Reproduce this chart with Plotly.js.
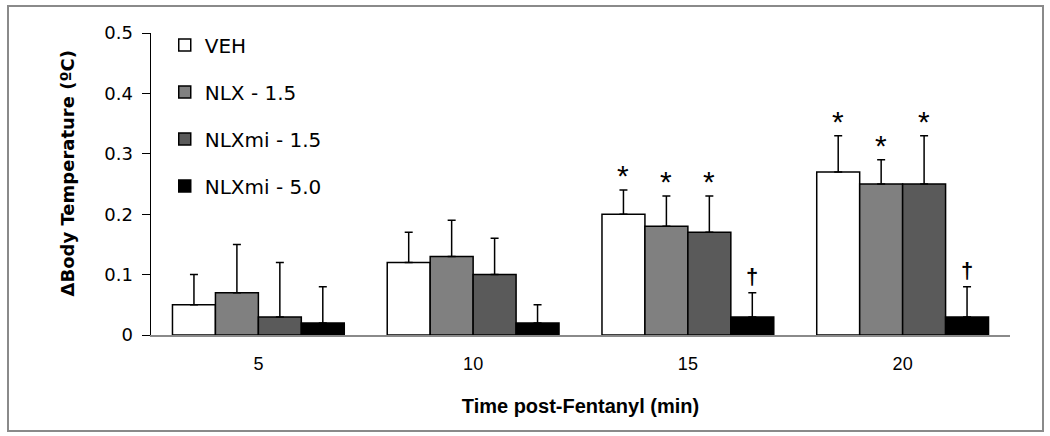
<!DOCTYPE html>
<html>
<head>
<meta charset="utf-8">
<script src="https://cdn.plot.ly/plotly-3.0.1.min.js"></script>
<style>
  html, body { margin: 0; padding: 0; background: #fff; }
  #frame { position: absolute; left: 7px; top: 5px; width: 1033px; height: 423px; border: 2px solid #8a8a8a; pointer-events: none; }
  #chart { position: absolute; left: 0; top: 0; width: 1050px; height: 436px; }
</style>
</head>
<body>
<div id="chart"></div>
<div id="frame"></div>
<script>
const categories = ['5', '10', '15', '20'];
const seriesNames = ['VEH', 'NLX - 1.5', 'NLXmi - 1.5', 'NLXmi - 5.0'];
const vehValues = [0.05, 0.12, 0.20, 0.27];
const vehErrors = [0.05, 0.05, 0.04, 0.06];
const nlxValues = [0.07, 0.13, 0.18, 0.25];
const nlxErrors = [0.08, 0.06, 0.05, 0.04];
const nlxmi15Values = [0.03, 0.10, 0.17, 0.25];
const nlxmi15Errors = [0.09, 0.06, 0.06, 0.08];
const nlxmi50Values = [0.02, 0.02, 0.03, 0.03];
const nlxmi50Errors = [0.06, 0.03, 0.04, 0.05];
const vehMarks = ['', '', '*', '*'];
const nlxMarks = ['', '', '*', '*'];
const nlxmi15Marks = ['', '', '*', '*'];
const nlxmi50Marks = ['', '', '\u2020', '\u2020'];
const yTicks = [0, 0.1, 0.2, 0.3, 0.4, 0.5];
const yTickLabels = ['0', '0.1', '0.2', '0.3', '0.4', '0.5'];
const yTitle = '\u0394Body Temperature (\u00baC)';
const xTitle = 'Time post-Fentanyl (min)';

const seriesValues = [vehValues, nlxValues, nlxmi15Values, nlxmi50Values];
const seriesErrors = [vehErrors, nlxErrors, nlxmi15Errors, nlxmi50Errors];
const seriesMarks = [vehMarks, nlxMarks, nlxmi15Marks, nlxmi50Marks];
const seriesColors = ['#ffffff', '#808080', '#5a5a5a', '#000000'];

const bargap = 0.2;
const nSeries = seriesNames.length;
const barW = (1 - bargap) / nSeries;
const wideFont = 'DejaVu Sans, Verdana, sans-serif';

const traces = seriesNames.map((name, i) => ({
  type: 'bar',
  name: name,
  legendgroup: 'g' + i,
  x: categories,
  y: seriesValues[i],
  marker: { color: seriesColors[i], line: { color: '#000', width: 1.5 } },
  error_y: {
    type: 'data', symmetric: false,
    array: seriesErrors[i],
    arrayminus: seriesErrors[i].map(() => 0),
    color: '#000', thickness: 1.5, width: 4
  },
  hoverinfo: 'skip'
}));

const annotations = [];
seriesNames.forEach((name, i) => {
  categories.forEach((c, j) => {
    const m = seriesMarks[i][j];
    if (!m) return;
    const xPos = j - (1 - bargap) / 2 + barW * (i + 0.5);
    annotations.push({
      x: xPos, y: seriesValues[i][j] + seriesErrors[i][j],
      xref: 'x', yref: 'y', text: m === '*' ? m : '<b>' + m + '</b>', showarrow: false,
      yanchor: 'bottom', yshift: m === '*' ? -4 : 2,
      font: { family: 'Liberation Sans, Arial, sans-serif', size: m === '*' ? 30 : 22, color: '#000' }
    });
  });
});
annotations.push({
  xref: 'paper', yref: 'paper', x: 0, y: 0.535, xanchor: 'center', yanchor: 'middle',
  xshift: -84, textangle: -90, showarrow: false,
  text: '<b>' + yTitle + '</b>',
  font: { family: wideFont, size: 18, color: '#000' }
});

const layout = {
  width: 1050, height: 436,
  margin: { l: 151, r: 40, t: 33, b: 101 },
  paper_bgcolor: '#fff', plot_bgcolor: '#fff',
  barmode: 'group', bargap: bargap, bargroupgap: 0,
  showlegend: true,
  legend: {
    x: 0.016, y: 1.025, xanchor: 'left', yanchor: 'top',
    font: { family: wideFont, size: 20, color: '#000' },
    tracegroupgap: 18, bgcolor: 'rgba(0,0,0,0)'
  },
  xaxis: {
    type: 'category',
    showline: true, linecolor: '#8a8a8a', linewidth: 1.5,
    ticks: '', showgrid: false, zeroline: false,
    ticklabelstandoff: 12,
    tickfont: { family: 'Liberation Sans, Arial, sans-serif', size: 18, color: '#000' },
    title: { text: '<b>' + xTitle + '</b>', standoff: 26,
      font: { family: 'Liberation Sans, Arial, sans-serif', size: 20, color: '#000' } }
  },
  yaxis: {
    range: [0, 0.5], tickvals: yTicks, ticktext: yTickLabels,
    showline: true, linecolor: '#000', linewidth: 1.5,
    ticks: 'outside', ticklen: 8, tickcolor: '#000',
    ticklabelstandoff: 5,
    showgrid: false, zeroline: false,
    tickfont: { family: wideFont, size: 18, color: '#000' }
  },
  annotations: annotations
};

Plotly.newPlot('chart', traces, layout, { displayModeBar: false, staticPlot: true });
</script>
</body>
</html>
